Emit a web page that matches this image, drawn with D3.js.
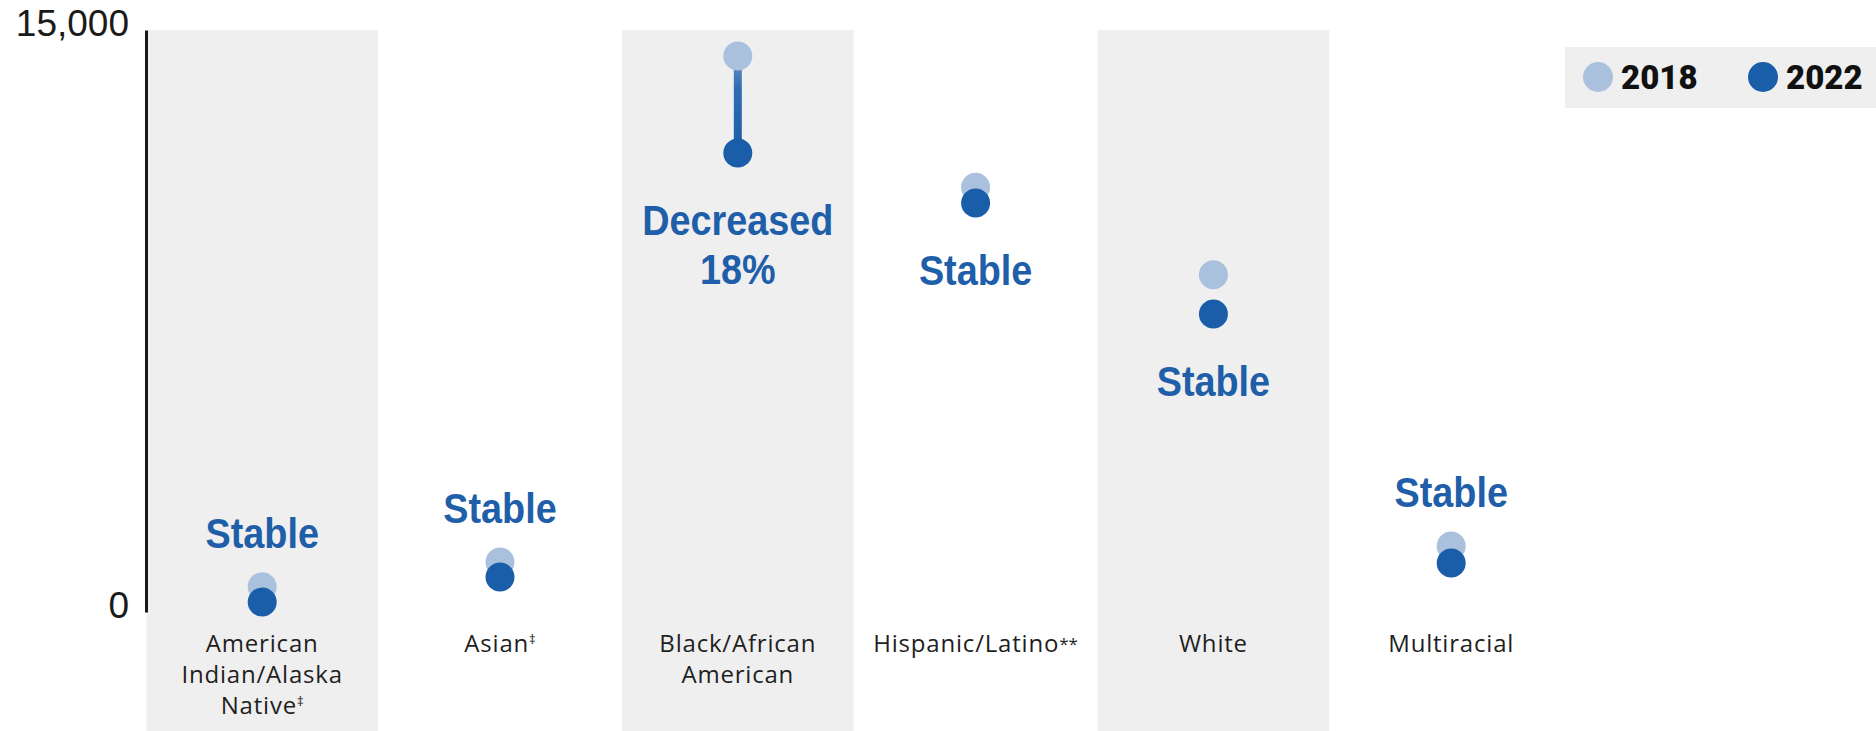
<!DOCTYPE html>
<html>
<head>
<meta charset="utf-8">
<script src="https://cdn.jsdelivr.net/npm/d3@7"></script>
<style>
  html, body { margin: 0; padding: 0; background: #fff; }
  svg { display: block; }
</style>
</head>
<body>
<svg id="chart" width="1876" height="731"></svg>
<script>
// ---- data ----
const categories = ["American Indian/Alaska Native", "Asian", "Black/African American", "Hispanic/Latino", "White", "Multiracial"];
const categoryLines = [["American", "Indian/Alaska", "Native‡"], ["Asian‡"], ["Black/African", "American"], ["Hispanic/Latino**"], ["White"], ["Multiracial"]];
const values2018 = [650, 1290, 14330, 10950, 8690, 1700];
const values2022 = [260, 900, 11830, 10540, 7680, 1260];
const trendLabels = [["Stable"], ["Stable"], ["Decreased", "18%"], ["Stable"], ["Stable"], ["Stable"]];
const yTicks = [0, 15000];
const seriesNames = ["2018", "2022"];

// ---- styles ----
const colLight = "#aac1dd";
const colDark = "#1a5da9";
const colText = "#1f5ea8";
const bandFill = "#efefef";

const W = 1876, H = 731;
const svg = d3.select("#chart");

const x = d3.scaleBand()
  .domain(categories)
  .range([143.3, 1570.1])
  .paddingInner(0.026)
  .paddingOuter(0.013);

const y = d3.scaleLinear().domain([0, 15000]).range([612, 30]);

// alternating background bands
svg.append("g").selectAll("rect")
  .data(categories.filter((d, i) => i % 2 === 0))
  .join("rect")
  .attr("x", d => x(d))
  .attr("width", x.bandwidth())
  .attr("y", y(15000))
  .attr("height", H - y(15000))
  .attr("fill", bandFill);

// y axis
const yAxis = d3.axisLeft(y).tickValues(yTicks).tickFormat(d3.format(",")).tickSize(0).tickPadding(17);
const gy = svg.append("g").attr("transform", "translate(146,0)").call(yAxis);
gy.select(".domain").attr("stroke", "#1a1a1a").attr("stroke-width", 3);
gy.selectAll("text")
  .attr("font-family", "'Liberation Sans', Arial, sans-serif")
  .attr("font-size", 37)
  .attr("fill", "#1a1a1a")
  .attr("dy", "0.35em")
  .attr("y", -7);

// data rows
const rows = categories.map((c, i) => ({
  cat: c, v18: values2018[i], v22: values2022[i], label: trendLabels[i], lines: categoryLines[i]
}));

const gRow = svg.append("g").selectAll("g").data(rows).join("g");

// gradient for connector line
const defs = svg.append("defs");
const grad = defs.append("linearGradient").attr("id", "conn").attr("x1", 0).attr("y1", 0).attr("x2", 0).attr("y2", 1);
grad.append("stop").attr("offset", "0%").attr("stop-color", "#6690c6");
grad.append("stop").attr("offset", "35%").attr("stop-color", "#2f6cb3");
grad.append("stop").attr("offset", "100%").attr("stop-color", colDark);

gRow.filter(d => d.label[0] !== "Stable")
  .append("rect")
  .attr("x", d => x(d.cat) + x.bandwidth() / 2 - 4)
  .attr("width", 8)
  .attr("y", d => y(Math.max(d.v18, d.v22)))
  .attr("height", d => Math.abs(y(d.v18) - y(d.v22)))
  .attr("fill", "url(#conn)");

gRow.append("circle")
  .attr("cx", d => x(d.cat) + x.bandwidth() / 2)
  .attr("cy", d => y(d.v18))
  .attr("r", 14.5)
  .attr("fill", colLight);

gRow.append("circle")
  .attr("cx", d => x(d.cat) + x.bandwidth() / 2)
  .attr("cy", d => y(d.v22))
  .attr("r", 14.5)
  .attr("fill", colDark);

// trend labels
gRow.each(function (d) {
  const g = d3.select(this);
  const cx = x(d.cat) + x.bandwidth() / 2;
  const hi = Math.max(d.v18, d.v22), lo = Math.min(d.v18, d.v22);
  const above = hi < 5000;
  const lineH = 49;
  const n = d.label.length;
  const base0 = above ? y(hi) - 39 - (n - 1) * lineH : y(lo) + 82;
  d.label.forEach((t, k) => {
    g.append("text")
      .attr("transform", `translate(${cx},${base0 + k * lineH}) scale(0.9,1)`)
      .attr("text-anchor", "middle")
      .attr("font-family", "'Liberation Sans', Arial, sans-serif")
      .attr("font-weight", "bold")
      .attr("font-size", 42)
      .attr("fill", colText)
      .text(t);
  });
});

// category labels
gRow.each(function (d) {
  const g = d3.select(this);
  const cx = x(d.cat) + x.bandwidth() / 2;
  const t = g.append("text")
    .attr("text-anchor", "middle")
    .attr("font-family", "'Open Sans', Lato, sans-serif")
    .attr("font-size", 24)
    .attr("letter-spacing", 0.8)
    .attr("fill", "#1f1f1f");
  d.lines.forEach((ln, k) => {
    const m = ln.match(/^(.*?)(‡|\*\*)?$/);
    t.append("tspan").attr("x", cx).attr("y", 652 + k * 31).text(m[1]);
    if (m[2]) {
      t.append("tspan")
        .attr("font-size", m[2] === "‡" ? 13 : 17)
        .attr("dy", m[2] === "‡" ? -8 : -2)
        .attr("letter-spacing", 0)
        .text(m[2]);
    }
  });
});

// legend
const lg = svg.append("g");
lg.append("rect").attr("x", 1565).attr("y", 47).attr("width", W - 1565).attr("height", 61).attr("fill", bandFill);
const legendItems = lg.selectAll("g").data(seriesNames).join("g")
  .attr("transform", (d, i) => `translate(${1598 + i * 165},77)`);
legendItems.append("circle").attr("r", 15).attr("fill", (d, i) => i === 0 ? colLight : colDark);
legendItems.append("text")
  .attr("x", 23)
  .attr("y", 12)
  .attr("font-family", "Roboto, 'Liberation Sans', sans-serif")
  .attr("font-weight", 900)
  .attr("font-size", 33)
  .attr("fill", "#111")
  .text(d => d);
</script>
</body>
</html>
